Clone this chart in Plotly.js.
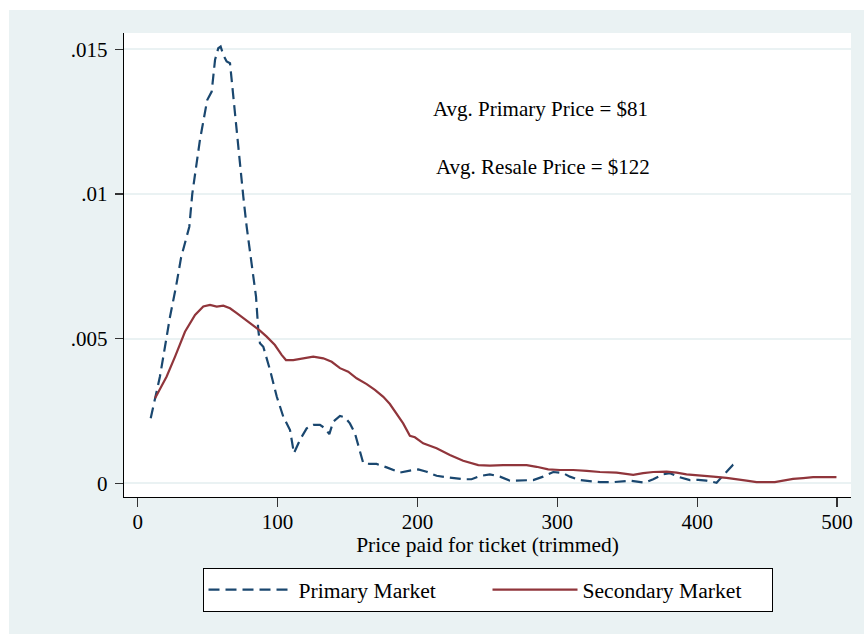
<!DOCTYPE html>
<html>
<head>
<meta charset="utf-8">
<script src="https://cdn.plot.ly/plotly-3.0.1.min.js"></script>
<style>
  html, body { margin: 0; padding: 0; background: #ffffff; overflow: hidden; }
  #chart { position: absolute; left: 9px; top: 10px; width: 855px; height: 624px; }
</style>
</head>
<body>
<div id="chart"></div>
<script>
// Kernel density of ticket prices, primary vs. secondary market
const primaryPrice = [9.3, 12.4, 15.9, 19.5, 23.1, 27.4, 31, 36.9, 39, 44.5, 49.7, 52.9, 55.3, 57.6, 59.3,
  61.2, 63.6, 66, 68.3, 70.8, 73.1, 75.5, 77.9, 80.8, 84.6, 86.2, 87.4, 89.8, 94.6, 99.4, 104.1, 108.9,
  111.7, 116, 120.8, 125.5, 130.3, 133.9, 137, 139.8, 144.6, 148.2, 151.7, 155.3, 158.9, 161.3, 166,
  170.8, 178, 187.5, 194.6, 200.6, 206.6, 213.7, 220.9, 232.7, 238.7, 244.7, 251.8, 259, 266.1, 273.3,
  282.8, 289.9, 297.1, 304.2, 309, 316.2, 330.5, 340, 351.9, 362.6, 368.6, 375.7, 380.5, 387.6, 394.8,
  400.7, 406.7, 413.9, 418.6, 422.2, 425.7, 429.3];
const primaryDensity = [0.00225, 0.00289, 0.00369, 0.00472, 0.00576, 0.0068, 0.0078, 0.00887, 0.0100,
  0.01187, 0.01325, 0.01354, 0.01464, 0.01504, 0.0151, 0.01481, 0.01458, 0.01452, 0.01337, 0.01222,
  0.01108, 0.00991, 0.00887, 0.00784, 0.00645, 0.0053, 0.00484, 0.00472, 0.00392, 0.003, 0.0023, 0.00184,
  0.00104, 0.0015, 0.0019, 0.00202, 0.00202, 0.0019, 0.0017, 0.00213, 0.00233, 0.00228, 0.00207, 0.00173,
  0.00115, 0.00069, 0.00067, 0.00067, 0.00055, 0.00037, 0.00044, 0.00048, 0.0004, 0.00026, 0.00021,
  0.00014, 0.00014, 0.00025, 0.00031, 0.00023, 0.00009, 0.00009, 0.00011, 0.00023, 0.00039, 0.00035,
  0.00023, 0.00011, 0.00004, 0.00004, 0.00009, 0.00002, 0.00014, 0.00031, 0.00035, 0.00021, 0.00011,
  0.00012, 0.00009, 0.00002, 0.00025, 0.00046, 0.00064, 0.00069];

const secondaryPrice = [12.4, 20.7, 26.7, 33.8, 41, 46.9, 51.7, 56.5, 61.2, 66, 70.8, 76.7, 82.6, 87.4,
  92.2, 98.1, 102.9, 106, 111.2, 118.4, 125.5, 132.7, 138.7, 144.6, 150.5, 156.5, 163.7, 169.6, 175.6,
  180.3, 185.1, 189.8, 194.6, 198.2, 204.1, 213.7, 223.2, 232.7, 243.5, 251.8, 261.3, 278.1, 285.2, 293.5,
  301.9, 311.4, 321, 330.5, 342.4, 354.3, 361.4, 368.6, 378.1, 385.3, 392.4, 401.9, 411.4, 421, 428.1,
  435.3, 442.5, 449.6, 455.5, 461.5, 468.6, 475.8, 482.9, 492.5, 499.6];
const secondaryDensity = [0.00294, 0.00369, 0.00438, 0.00524, 0.00582, 0.00611, 0.00617, 0.00611, 0.00614,
  0.00605, 0.00588, 0.00567, 0.00544, 0.00528, 0.00507, 0.00478, 0.00444, 0.00426, 0.00426, 0.00432,
  0.00438, 0.00432, 0.0042, 0.00398, 0.00386, 0.00363, 0.00343, 0.00323, 0.00299, 0.00274, 0.00242,
  0.00207, 0.00164, 0.00159, 0.00138, 0.00121, 0.00098, 0.00078, 0.00063, 0.00061, 0.00063, 0.00063,
  0.00057, 0.00048, 0.00046, 0.00046, 0.00043, 0.00039, 0.00037, 0.00029, 0.00035, 0.00039, 0.0004,
  0.00037, 0.00031, 0.00028, 0.00023, 0.00019, 0.00015, 0.00009, 0.00004, 0.00003, 0.00004, 0.00009,
  0.00015, 0.00018, 0.00021, 0.00021, 0.00021];

const xTicks = [0, 100, 200, 300, 400, 500];
const yTicks = [0, 0.005, 0.01, 0.015];
const yTickLabels = ['0', '.005', '.01', '.015'];
const seriesNames = ['Primary Market', 'Secondary Market'];
const avgLabels = ['Avg. Primary Price = $81', 'Avg. Resale Price = $122'];

const serif = '"Liberation Serif", "Times New Roman", Times, serif';
const navy = '#1a476f';
const maroon = '#90353b';

const traces = [
  {
    x: primaryPrice, y: primaryDensity, name: seriesNames[0],
    type: 'scatter', mode: 'lines',
    line: { color: navy, width: 2.2, dash: '11px,6px' }
  },
  {
    x: secondaryPrice, y: secondaryDensity, name: seriesNames[1],
    type: 'scatter', mode: 'lines',
    line: { color: maroon, width: 2.2 }
  }
];

const layout = {
  width: 855, height: 624,
  margin: { l: 115, r: 13, t: 23, b: 137 },
  paper_bgcolor: '#eaf2f3',
  plot_bgcolor: '#ffffff',
  font: { family: serif, size: 21, color: '#000000' },
  showlegend: true,
  xaxis: {
    range: [-9.8, 510],
    tickvals: xTicks,
    ticks: 'outside', ticklen: 9, tickwidth: 1.3, tickcolor: '#333333',
    showline: true, linecolor: '#000000', linewidth: 1.3,
    showgrid: false, zeroline: false,
    ticklabelstandoff: -4,
    tickfont: { family: serif, size: 21 },
    title: { text: 'Price paid for ticket (trimmed)', font: { family: serif, size: 21.5 }, standoff: 2 }
  },
  yaxis: {
    range: [-0.000474, 0.015567],
    tickvals: yTicks, ticktext: yTickLabels,
    ticks: 'outside', ticklen: 8, tickwidth: 1.3, tickcolor: '#333333',
    showline: true, linecolor: '#000000', linewidth: 1.3,
    showgrid: true, gridcolor: '#eaf2f3', gridwidth: 2,
    zeroline: false,
    ticklabelstandoff: 3,
    tickfont: { family: serif, size: 21 }
  },
  legend: {
    orientation: 'h',
    x: 0.5, xanchor: 'center',
    y: -0.153, yanchor: 'top',
    bgcolor: '#ffffff', bordercolor: '#000000', borderwidth: 1,
    itemwidth: 85,
    entrywidth: 184, entrywidthmode: 'pixels',
    font: { family: serif, size: 21.6 },
    itemclick: false, itemdoubleclick: false
  },
  annotations: [
    { x: 288.3, y: 0.01294, xref: 'x', yref: 'y', text: avgLabels[0], showarrow: false,
      font: { family: serif, size: 21 } },
    { x: 289.7, y: 0.01094, xref: 'x', yref: 'y', text: avgLabels[1], showarrow: false,
      font: { family: serif, size: 21 } }
  ]
};

Plotly.newPlot('chart', traces, layout, { staticPlot: true, displayModeBar: false });
</script>
</body>
</html>
